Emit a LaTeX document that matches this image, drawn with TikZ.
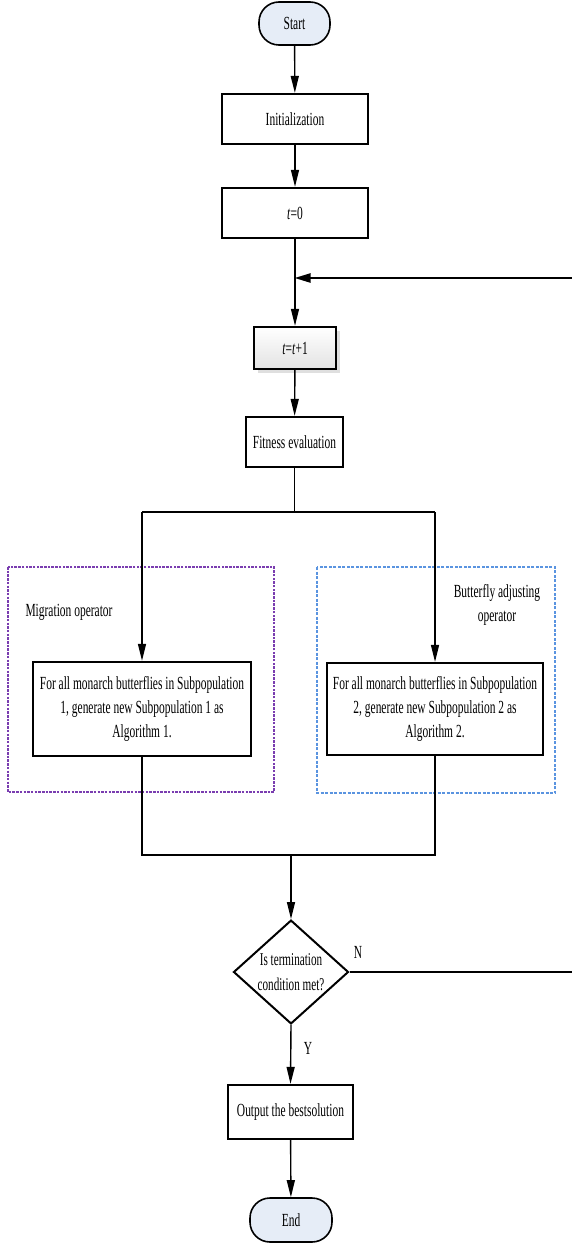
\documentclass[tikz,border=0pt]{standalone}
\usepackage{fontspec}
\setmainfont{Liberation Serif}[FakeStretch=0.62]
\usepackage{tikz}
\usetikzlibrary{arrows.meta,shapes.geometric,shadows}
\definecolor{termfill}{HTML}{E6EDF7}
\definecolor{migpurple}{HTML}{7A3DB0}
\definecolor{adjblue}{HTML}{5A94E0}

\begin{document}
\begin{tikzpicture}[x=1pt,y=-1pt,font=\fontsize{18.5}{24}\selectfont,
  box/.style={draw,line width=2.2pt,minimum width=#1,align=center,inner sep=2pt},
  term/.style={draw,line width=1.6pt,fill=termfill,rounded corners=20pt,minimum width=71pt,minimum height=43pt},
  arr/.style={line width=1.4pt,-{Triangle[length=17pt,width=8pt]}},
  wire/.style={line width=1.4pt},
  loopline/.style={line width=2.2pt}]
  \useasboundingbox (0,0) rectangle (571,1244);
  % main chain
  \node[term] (start) at (294.5,23.5) {Start};
  \node[box=146pt,minimum height=50pt] (init) at (295,119) {Initialization};
  \node[box=146pt,minimum height=50pt] (t0) at (295,213) {\textit{t}=0};
  \node[box=82pt,minimum height=42pt,top color=white,bottom color=gray!22,
    drop shadow={opacity=0.25,shadow xshift=4pt,shadow yshift=-4pt}] (tt1) at (295,348) {\textit{t}=\textit{t}+1};
  \node[box=97pt,minimum height=50pt] (fit) at (294.5,442) {Fitness evaluation};
  % operator groups
  \draw[migpurple,line width=2pt,dash pattern=on 2.5pt off 1.2pt] (8,567) rectangle (274,792);
  \draw[adjblue,line width=2pt,dash pattern=on 3pt off 1.5pt] (317,567) rectangle (555,793);
  \node[anchor=west] (miglab) at (22,612) {Migration operator};
  \node[align=center] (adjlab) at (497,605) {Butterfly adjusting\\operator};
  \node[box=218pt,minimum height=94pt] (sub1) at (142,709) {For all monarch butterflies in Subpopulation\\1, generate new Subpopulation 1 as\\Algorithm 1.};
  \node[box=216pt,minimum height=92pt] (sub2) at (435,709) {For all monarch butterflies in Subpopulation\\2, generate new Subpopulation 2 as\\Algorithm 2.};
  % decision and end
  \node[draw,diamond,line width=2pt,minimum width=115pt,minimum height=100pt,inner sep=0pt,align=center,
    font=\fontsize{18}{25}\selectfont] (cond) at (291,972) {Is termination\\condition met?};
  \node[box=125pt,minimum height=54pt] (out) at (290.5,1112) {Output the bestsolution};
  \node[term,minimum width=82pt,minimum height=44pt] (end) at (291,1220) {End};
  \node (nlab) at (358,952) {N};
  \node (ylab) at (308,1048) {Y};
  \coordinate (split) at (294.5,512);
  \coordinate (merge) at (291,855);
  \coordinate (loopin) at (294.5,278);
  \coordinate (edge) at (575,972);
  % connectors
  \foreach \a/\b in {start/init,init/t0,tt1/fit,out/end} {\draw[arr] (\a)--(\b);}
  \draw[arr] (t0.south)--(tt1.north);
  \draw[wire] (fit.south)--(split);
  \draw[wire] (sub1.north |- split)--(sub2.north |- split);
  \draw[arr] (sub1.north |- split)--(sub1.north);
  \draw[arr] (sub2.north |- split)--(sub2.north);
  \draw[wire] (sub1.south)--(sub1.south |- merge)--(sub2.south |- merge)--(sub2.south);
  \draw[arr] (merge)--(cond.north);
  \draw[arr] (cond.south)--(out.north);
  \draw[loopline] (cond.east)--(edge)--(edge |- loopin);
  \draw[loopline,-{Triangle[length=16pt,width=9pt]}] (edge |- loopin)--(loopin);
\end{tikzpicture}
\end{document}
